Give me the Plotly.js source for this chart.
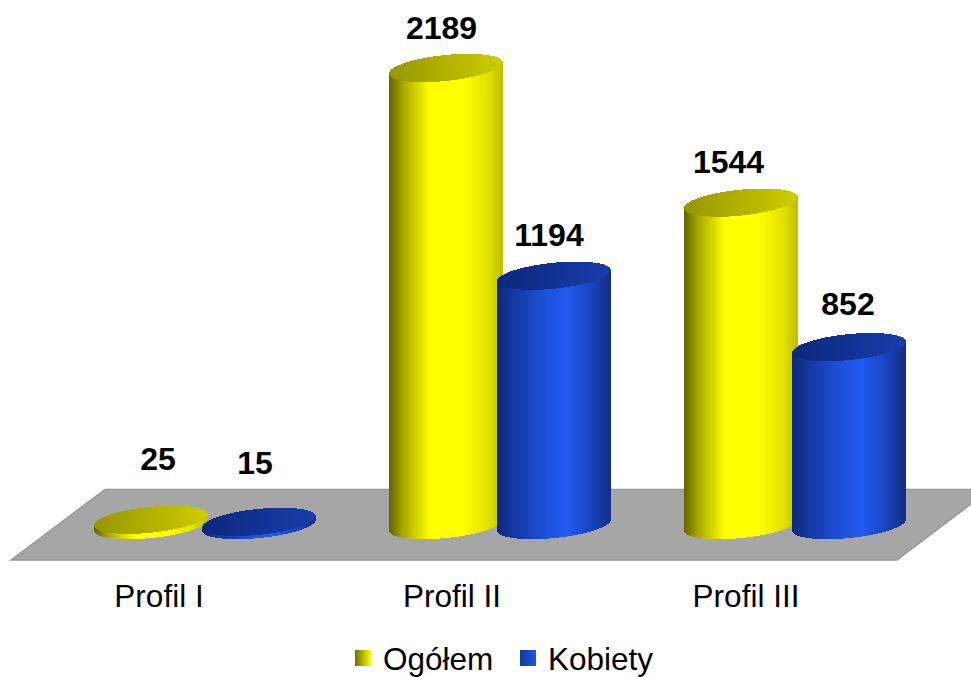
<!DOCTYPE html>
<html><head><meta charset="utf-8">
<script src="https://cdn.plot.ly/plotly-3.0.1.min.js"></script>
<style>html,body{margin:0;padding:0;background:#fff}#c{width:971px;height:677px}</style>
</head><body><div id="c"></div>
<script>
// ---- data ----
const categories = ["Profil I", "Profil II", "Profil III"];
const seriesNames = ["Ogółem", "Kobiety"];
const ogolem = [25, 2189, 1544];
const kobiety = [15, 1194, 852];

// ---- layout constants (pixels of the 971x677 page) ----
const W = 971, H = 677;
const catStartPx = 205, catStepPx = 295, baselinePx = 525, pxPerValue = 457 / 2189;
const rx = 56.5, ry = 13, tilt = 5.5, groupOffsetPx = 54;
const tickShift = [-46, -48, -49];
const yellowStops = [[0,[100,100,0]],[0.12,[165,165,0]],[0.36,[255,255,0]],[0.66,[255,255,0]],[0.88,[225,225,0]],[1,[190,190,0]]];
const blueStops = [[0,[14,40,125]],[0.14,[20,55,160]],[0.45,[30,82,222]],[0.62,[33,90,238]],[0.85,[24,66,185]],[1,[18,46,135]]];
const yellowCap = [[0,[150,150,0]],[1,[205,205,0]]];
const blueCap = [[0,[12,40,125]],[1,[24,60,170]]];
const labelShift = [[[7,-58],[-4.5,-37],[-12.5,-38]],[[-4,-56],[-5,-38],[-1,-40]]];

const lerp = (stops,t)=>{
  for(let i=1;i<stops.length;i++){
    if(t<=stops[i][0]){
      const a=stops[i-1],b=stops[i],u=(t-a[0])/(b[0]-a[0]);
      return 'rgb('+a[1].map((c,j)=>Math.round(c+(b[1][j]-c)*u)).join(',')+')';
    }
  }
  const l=stops[stops.length-1][1];return 'rgb('+l.join(',')+')';
};

function cylinderTrace(values, sign, bodyStops, capStops, name){
  const x=[],y=[],base=[],color=[];
  values.forEach((v,i)=>{
    const cx=i+sign*groupOffsetPx/catStepPx;
    for(let d=-rx;d<rx;d+=1){
      const m=d+0.5, u=m/rx, s=Math.sqrt(1-u*u)*ry, k=tilt*u;
      const front=(k-s)/pxPerValue, back=(k+s)/pxPerValue;
      x.push(cx+m/catStepPx); base.push(front); y.push(v); color.push(lerp(bodyStops,(u+1)/2));
      x.push(cx+m/catStepPx); base.push(v+front); y.push(back-front); color.push(lerp(capStops,(u+1)/2));
    }
  });
  return {type:'bar',x,y,base,width:1.05/catStepPx,name,showlegend:false,hoverinfo:'skip',
    marker:{color,line:{width:0}}};
}

const traces=[
  cylinderTrace(ogolem,-1,yellowStops,yellowCap,seriesNames[0]),
  cylinderTrace(kobiety,1,blueStops,blueCap,seriesNames[1])
];

[ogolem,kobiety].forEach((vals,si)=>{
  traces.push({type:'scatter',mode:'text',showlegend:false,hoverinfo:'skip',cliponaxis:false,
    x:vals.map((v,i)=>i+((si?1:-1)*groupOffsetPx+labelShift[si][i][0])/catStepPx),
    y:vals.map((v,i)=>v-labelShift[si][i][1]/pxPerValue),
    text:vals.map(String),textposition:'middle center',
    textfont:{family:'Liberation Sans, Arial, sans-serif',size:32,color:'#000',weight:700}});
});

traces.push({type:'scatter',mode:'markers',name:seriesNames[0],x:[null],y:[null],
  marker:{symbol:'square',size:16,color:'#6e6e00',gradient:{type:'horizontal',color:'#ffff00'}}});
traces.push({type:'scatter',mode:'markers',name:seriesNames[1],x:[null],y:[null],
  marker:{symbol:'square',size:16,color:'#143a9c',gradient:{type:'horizontal',color:'#1f55f0'}}});

const px=(p)=>p/W, py=(p)=>1-p/H;
const floorPath='M '+px(11)+' '+py(560)+' L '+px(105)+' '+py(489.5)+' L 1 '+py(489.5)+' L 1 '+py(504)+' L '+px(897)+' '+py(560)+' Z';

const layout={
  width:W,height:H,margin:{l:0,r:0,t:0,b:0,autoexpand:false},paper_bgcolor:'#fff',plot_bgcolor:'rgba(0,0,0,0)',
  barmode:'overlay',bargap:0,
  font:{family:'Liberation Sans, Arial, sans-serif',color:'#000'},
  xaxis:{range:[-catStartPx/catStepPx,(W-catStartPx)/catStepPx],anchor:'free',position:(H-574)/H,
    tickmode:'array',tickvals:categories.map((c,i)=>i+tickShift[i]/catStepPx),ticktext:categories,
    tickfont:{size:31.5,color:'#000',family:'Liberation Sans, Arial, sans-serif'},
    ticks:'',showgrid:false,zeroline:false,showline:false,fixedrange:true},
  yaxis:{range:[(baselinePx-H)/pxPerValue,baselinePx/pxPerValue],visible:false,fixedrange:true},
  shapes:[{type:'path',xref:'paper',yref:'paper',path:floorPath,fillcolor:'#a6a6a6',line:{color:'#999999',width:1.5},layer:'below'}],
  showlegend:true,
  legend:{orientation:'h',x:343/W,xanchor:'left',y:19/H,yanchor:'middle',bgcolor:'rgba(0,0,0,0)',
    font:{size:31.5,color:'#000'},itemwidth:30,tracegroupgap:0,entrywidth:120,entrywidthmode:'pixels'}
};
Plotly.newPlot('c',traces,layout,{displayModeBar:false,staticPlot:true});
</script></body></html>
